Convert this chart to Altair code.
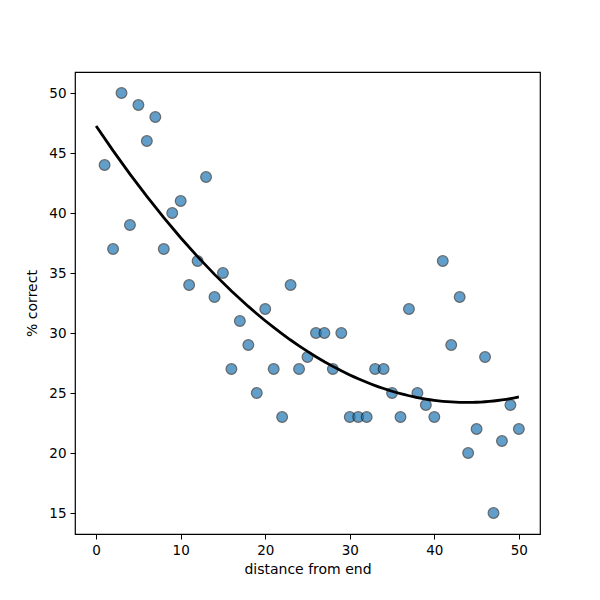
import altair as alt
import pandas as pd

distance = list(range(1, 51))
pct_correct = [44, 37, 50, 39, 49, 46, 48, 37, 40, 41,
               34, 36, 43, 33, 35, 27, 31, 29, 25, 32,
               27, 23, 34, 27, 28, 30, 30, 27, 30, 23,
               23, 23, 27, 27, 25, 23, 32, 25, 24, 23,
               36, 29, 33, 20, 22, 28, 15, 21, 24, 22]

df = pd.DataFrame({"x": distance, "y": pct_correct})

xscale = alt.Scale(domain=[-2.5, 52.5], nice=False, zero=False)
yscale = alt.Scale(domain=[13.25, 51.75], nice=False, zero=False)

xaxis = alt.Axis(title="distance from end", values=[0, 10, 20, 30, 40, 50], grid=False,
                 tickColor="black", domain=False, labelColor="black", titleColor="black",
                 labelFontSize=13.5, titleFontSize=14, titleFontWeight="normal",
                 labelFont="DejaVu Sans", titleFont="DejaVu Sans", tickSize=5, labelPadding=4,
                 titlePadding=6)
yaxis = alt.Axis(title="% correct", values=[15, 20, 25, 30, 35, 40, 45, 50], grid=False,
                 tickColor="black", domain=False, labelColor="black", titleColor="black",
                 labelFontSize=13.5, titleFontSize=14, titleFontWeight="normal",
                 labelFont="DejaVu Sans", titleFont="DejaVu Sans", tickSize=5, labelPadding=4,
                 titlePadding=9)

base = alt.Chart(df)

points = base.mark_circle(size=115, color="#1f77b4", opacity=0.7, stroke="#111111",
                          strokeWidth=1.2, strokeOpacity=0.85).encode(
    x=alt.X("x:Q", scale=xscale, axis=xaxis),
    y=alt.Y("y:Q", scale=yscale, axis=yaxis),
)

fit = base.transform_regression("x", "y", method="poly", order=2, extent=[0, 50]).mark_line(
    color="black", strokeWidth=2.8).encode(
    x=alt.X("x:Q", scale=xscale),
    y=alt.Y("y:Q", scale=yscale),
)

chart = (points + fit).properties(
    width=465, height=462,
    autosize=alt.AutoSizeParams(type="none"),
    padding={"left": 75, "top": 72, "right": 60, "bottom": 66},
    background="white",
).configure_view(stroke="black", strokeWidth=1.2)

chart.save("out.html", embed_options={"renderer": "svg", "actions": False})
